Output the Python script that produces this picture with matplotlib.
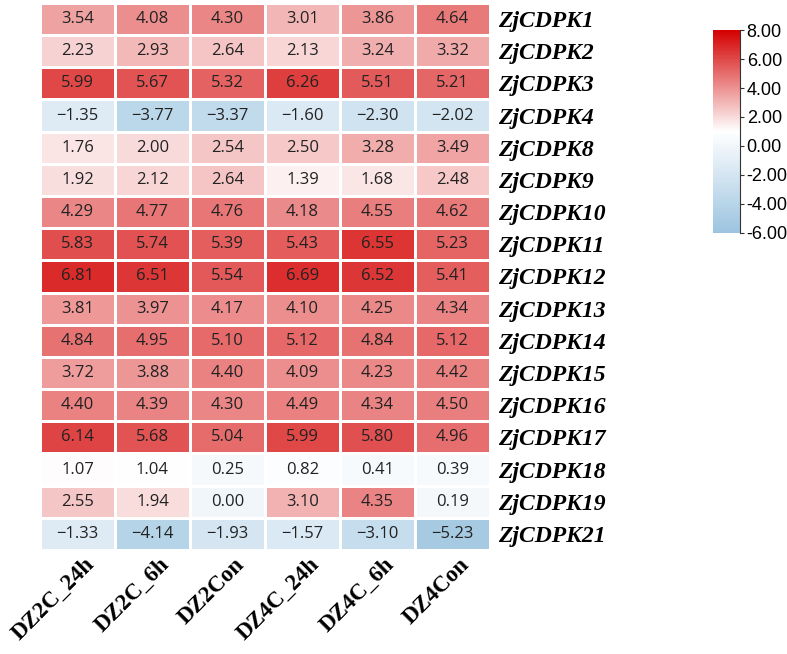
import numpy as np
import matplotlib.pyplot as plt
import matplotlib.transforms as mtransforms
from matplotlib.colors import LinearSegmentedColormap, Normalize

# ========== 数据 ==========
genes = ['ZjCDPK1', 'ZjCDPK2', 'ZjCDPK3', 'ZjCDPK4', 'ZjCDPK8', 'ZjCDPK9',
         'ZjCDPK10', 'ZjCDPK11', 'ZjCDPK12', 'ZjCDPK13', 'ZjCDPK14', 'ZjCDPK15',
         'ZjCDPK16', 'ZjCDPK17', 'ZjCDPK18', 'ZjCDPK19', 'ZjCDPK21']
samples = ['DZ2C_24h', 'DZ2C_6h', 'DZ2Con', 'DZ4C_24h', 'DZ4C_6h', 'DZ4Con']

values = np.array([
    [3.54, 4.08, 4.30, 3.01, 3.86, 4.64],
    [2.23, 2.93, 2.64, 2.13, 3.24, 3.32],
    [5.99, 5.67, 5.32, 6.26, 5.51, 5.21],
    [-1.35, -3.77, -3.37, -1.60, -2.30, -2.02],
    [1.76, 2.00, 2.54, 2.50, 3.28, 3.49],
    [1.92, 2.12, 2.64, 1.39, 1.68, 2.48],
    [4.29, 4.77, 4.76, 4.18, 4.55, 4.62],
    [5.83, 5.74, 5.39, 5.43, 6.55, 5.23],
    [6.81, 6.51, 5.54, 6.69, 6.52, 5.41],
    [3.81, 3.97, 4.17, 4.10, 4.25, 4.34],
    [4.84, 4.95, 5.10, 5.12, 4.84, 5.12],
    [3.72, 3.88, 4.40, 4.09, 4.23, 4.42],
    [4.40, 4.39, 4.30, 4.49, 4.34, 4.50],
    [6.14, 5.68, 5.04, 5.99, 5.80, 4.96],
    [1.07, 1.04, 0.25, 0.82, 0.41, 0.39],
    [2.55, 1.94, 0.00, 3.10, 4.35, 0.19],
    [-1.33, -4.14, -1.93, -1.57, -3.10, -5.23],
])

cbar_ticks = [-6, -4, -2, 0, 2, 4, 6, 8]

# ========== 绘图 ==========
vmin, vmax, vwhite = -6, 8, 1
cmap = LinearSegmentedColormap.from_list(
    'bwr_custom',
    [(0.0, '#9cc4e0'), ((vwhite - vmin) / (vmax - vmin), '#ffffff'), (1.0, '#d40000')])
norm = Normalize(vmin=vmin, vmax=vmax)

fig = plt.figure(figsize=(7.87, 6.54), dpi=100)
ax = fig.add_axes([0.0508, 0.159, 0.5718, 0.8365])

mesh = ax.pcolormesh(values, cmap=cmap, norm=norm, edgecolors='white', linewidth=1.0)
ax.set_xlim(0, len(samples))
ax.set_ylim(len(genes), 0)

for i in range(len(genes)):
    for j in range(len(samples)):
        txt = f'{values[i, j]:.2f}'.replace('-', '\u2212')
        ax.text(j + 0.5, i + 0.5, txt, ha='center', va='center',
                fontsize=12, color='#222222', family='Open Sans')

ax.yaxis.tick_right()
ax.set_yticks(np.arange(len(genes)) + 0.5)
ax.set_yticklabels(genes, family='Liberation Serif', fontweight='bold',
                   fontstyle='italic', fontsize=17)
ax.set_xticks(np.arange(len(samples)) + 0.5)
ax.set_xticklabels(samples, rotation=45, ha='right', rotation_mode='anchor',
                   family='Liberation Serif', fontweight='bold', fontsize=16.5)
ax.tick_params(axis='y', length=0, pad=6)
ax.tick_params(axis='x', length=0, pad=3)
# 标签稍向右移
offset = mtransforms.ScaledTranslation(0.06, 0, fig.dpi_scale_trans)
for lab in ax.get_xticklabels():
    lab.set_transform(lab.get_transform() + offset)
for s in ax.spines.values():
    s.set_visible(False)

# 色条
cax = fig.add_axes([0.906, 0.644, 0.034, 0.31])
cb = fig.colorbar(mesh, cax=cax, ticks=cbar_ticks)
cb.outline.set_visible(False)
cax.spines['right'].set_visible(True)
cax.spines['right'].set_color('#333333')
cb.ax.set_yticklabels([f'{t:.2f}' for t in cbar_ticks], family='Liberation Sans', fontsize=13)
cb.ax.tick_params(length=3, width=0.8, color='#333333', pad=2)

plt.savefig('out.png', dpi=100)
